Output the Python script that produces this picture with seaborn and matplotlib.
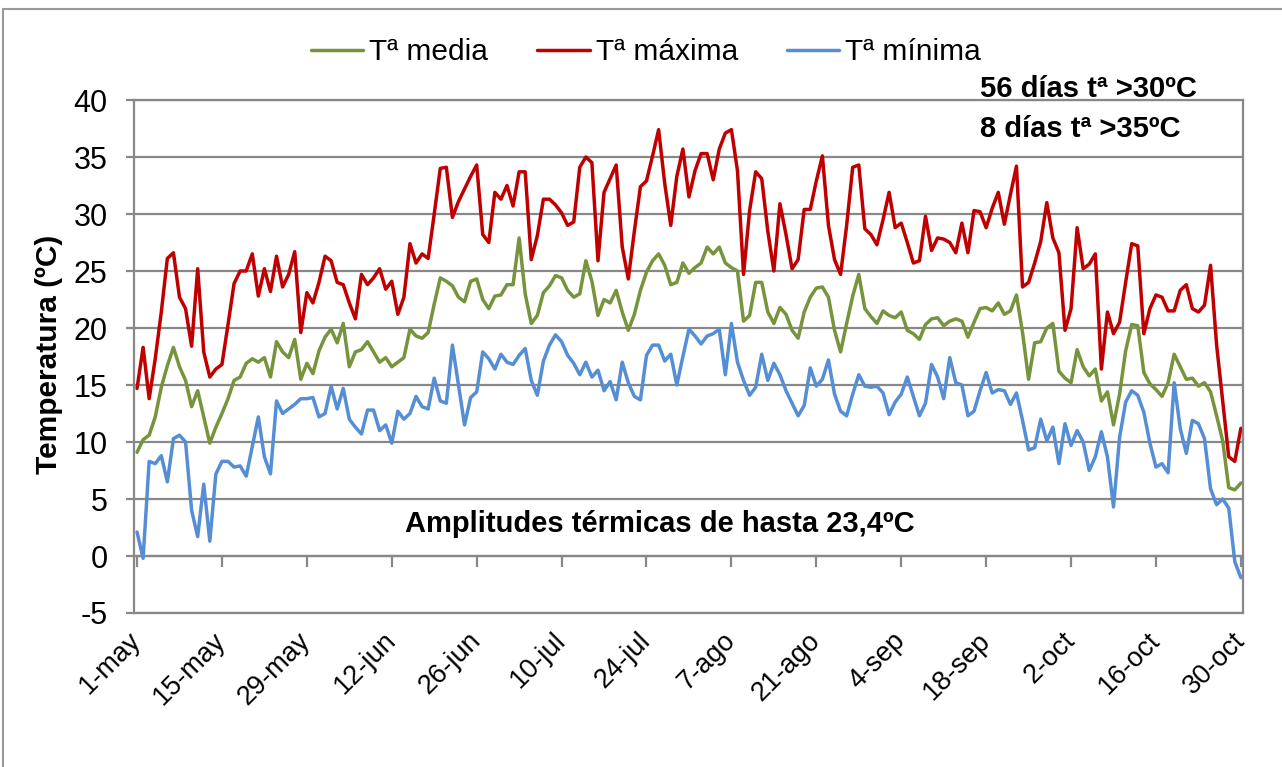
import numpy as np
import pandas as pd
import matplotlib
matplotlib.use("Agg")
import matplotlib.pyplot as plt
import seaborn as sns
from matplotlib.patches import Rectangle

# ---------------- data (1-may .. 30-oct, daily) ----------------
tick_labels = ["1-may", "15-may", "29-may", "12-jun", "26-jun", "10-jul", "24-jul",
               "7-ago", "21-ago", "4-sep", "18-sep", "2-oct", "16-oct", "30-oct"]

t_max = [14.7, 18.3, 13.8, 17.3, 21.4, 26.1, 26.6, 22.7, 21.7, 18.4,
         25.2, 17.9, 15.7, 16.4, 16.8, 20.3, 23.9, 25.0, 25.0, 26.5,
         22.8, 25.2, 23.2, 26.3, 23.6, 24.7, 26.7, 19.6, 23.1, 22.2,
         24.0, 26.3, 25.9, 24.0, 23.8, 22.2, 20.8, 24.7, 23.8, 24.4,
         25.2, 23.4, 24.1, 21.2, 22.7, 27.4, 25.7, 26.5, 26.1, 30.0,
         34.0, 34.1, 29.7, 31.1, 32.2, 33.3, 34.3, 28.2, 27.5, 31.9,
         31.3, 32.5, 30.7, 33.7, 33.7, 26.0, 28.1, 31.3, 31.3, 30.8,
         30.1, 29.0, 29.3, 34.1, 35.0, 34.5, 25.9, 31.9, 33.1, 34.3,
         27.1, 24.3, 28.5, 32.4, 32.9, 35.1, 37.4, 32.7, 29.0, 33.3,
         35.7, 31.5, 33.8, 35.3, 35.3, 33.0, 35.7, 37.1, 37.4, 33.8,
         24.7, 30.3, 33.7, 33.1, 28.5, 25.0, 30.9, 28.2, 25.2, 26.0,
         30.4, 30.4, 32.9, 35.1, 29.0, 26.0, 24.7, 29.0, 34.1, 34.3,
         28.7, 28.2, 27.3, 29.5, 31.9, 28.8, 29.2, 27.5, 25.7, 25.9,
         29.8, 26.8, 27.9, 27.8, 27.5, 26.6, 29.2, 26.6, 30.3, 30.2,
         28.8, 30.5, 31.9, 29.1, 31.7, 34.2, 23.6, 24.0, 25.7, 27.6,
         31.0, 27.9, 26.6, 19.8, 21.7, 28.8, 25.2, 25.6, 26.5, 16.4,
         21.4, 19.5, 20.5, 24.0, 27.4, 27.2, 19.5, 21.7, 22.9, 22.7,
         21.5, 21.5, 23.3, 23.8, 21.7, 21.4, 22.0, 25.5, 18.5, 13.6,
         8.7, 8.3, 11.2]

t_media = [9.1, 10.2, 10.6, 12.2, 14.8, 16.7, 18.3, 16.6, 15.4, 13.1,
           14.5, 12.2, 9.9, 11.3, 12.5, 13.8, 15.4, 15.7, 16.9, 17.3,
           17.0, 17.4, 15.7, 18.8, 17.9, 17.4, 19.0, 15.5, 16.9, 16.0,
           18.0, 19.2, 19.9, 18.7, 20.4, 16.6, 17.9, 18.1, 18.8, 17.9,
           17.0, 17.4, 16.6, 17.0, 17.4, 19.9, 19.3, 19.1, 19.6, 22.1,
           24.4, 24.1, 23.7, 22.7, 22.3, 24.1, 24.3, 22.5, 21.7, 22.8,
           22.9, 23.8, 23.8, 27.9, 23.0, 20.4, 21.1, 23.1, 23.7, 24.6,
           24.4, 23.3, 22.7, 23.0, 25.9, 24.1, 21.1, 22.5, 22.2, 23.3,
           21.4, 19.8, 21.2, 23.3, 24.9, 25.9, 26.5, 25.5, 23.8, 24.0,
           25.7, 24.8, 25.3, 25.7, 27.1, 26.5, 27.1, 25.7, 25.3, 25.0,
           20.6, 21.1, 24.0, 24.0, 21.4, 20.4, 21.8, 21.2, 19.8, 19.1,
           21.4, 22.7, 23.5, 23.6, 22.7, 19.8, 17.9, 20.4, 22.8, 24.7,
           21.7, 21.0, 20.4, 21.5, 21.1, 20.9, 21.4, 19.8, 19.5, 19.0,
           20.3, 20.8, 20.9, 20.2, 20.6, 20.8, 20.6, 19.2, 20.5, 21.7,
           21.8, 21.5, 22.2, 21.2, 21.5, 22.9, 19.6, 15.5, 18.7, 18.8,
           20.0, 20.4, 16.2, 15.6, 15.2, 18.1, 16.6, 15.8, 16.4, 13.6,
           14.4, 11.5, 14.2, 18.0, 20.3, 20.2, 16.1, 15.1, 14.6, 14.0,
           15.2, 17.7, 16.6, 15.5, 15.6, 14.9, 15.2, 14.4, 12.3, 10.1,
           6.0, 5.8, 6.4]

t_min = [2.1, -0.2, 8.3, 8.1, 8.8, 6.5, 10.3, 10.6, 10.0, 4.0,
         1.7, 6.3, 1.3, 7.2, 8.3, 8.3, 7.8, 7.9, 7.0, 9.6,
         12.2, 8.7, 7.2, 13.6, 12.5, 12.9, 13.3, 13.8, 13.8, 13.9,
         12.2, 12.5, 14.9, 12.9, 14.7, 12.0, 11.3, 10.7, 12.8, 12.8,
         11.0, 11.5, 9.9, 12.7, 12.0, 12.5, 14.0, 13.1, 12.9, 15.6,
         13.6, 13.4, 18.5, 15.0, 11.5, 13.9, 14.4, 17.9, 17.3, 16.4,
         17.7, 17.0, 16.8, 17.6, 18.2, 15.4, 14.1, 17.1, 18.5, 19.4,
         18.8, 17.6, 16.9, 15.9, 17.0, 15.7, 16.3, 14.5, 15.3, 13.7,
         17.0, 15.2, 14.0, 13.7, 17.6, 18.5, 18.5, 17.1, 17.7, 15.0,
         17.5, 19.9, 19.3, 18.6, 19.3, 19.5, 19.9, 15.9, 20.4, 17.0,
         15.4, 14.1, 14.8, 17.7, 15.4, 16.9, 15.9, 14.5, 13.4, 12.3,
         13.2, 16.5, 14.9, 15.5, 17.2, 14.2, 12.7, 12.3, 14.2, 15.9,
         14.9, 14.8, 14.9, 14.3, 12.4, 13.5, 14.2, 15.7, 14.0, 12.3,
         13.4, 16.8, 15.7, 13.8, 17.4, 15.2, 15.0, 12.3, 12.7, 14.5,
         16.1, 14.3, 14.6, 14.5, 13.3, 14.3, 11.9, 9.3, 9.5, 12.0,
         10.1, 11.3, 8.1, 11.6, 9.7, 11.0, 10.0, 7.5, 8.7, 10.9,
         8.7, 4.3, 10.4, 13.5, 14.5, 14.1, 12.6, 9.9, 7.8, 8.1,
         7.3, 15.2, 11.2, 9.0, 11.9, 11.6, 10.3, 5.9, 4.5, 5.0,
         4.2, -0.5, -1.9]

series_names = ["Tª media", "Tª máxima", "Tª mínima"]
series_colors = ["#77933C", "#C00000", "#558ED5"]

# ---------------- figure ----------------
sns.set_style("white")
plt.rcParams['font.family'] = ['Liberation Sans', 'DejaVu Sans']
plt.rcParams['axes.unicode_minus'] = False
plt.rcParams['text.color'] = 'black'
plt.rcParams['axes.labelcolor'] = 'black'

W, H = 1282, 767
fig = plt.figure(figsize=(W / 100, H / 100), dpi=100)
fig.patch.set_facecolor("white")

# outer chart border (top/left visible)
fig.add_artist(Rectangle((3 / W, -0.05), 1.2, 1.05 - 9 / H, transform=fig.transFigure,
                         fill=False, edgecolor="#9a9a9a", linewidth=1.5))

L, R, T, B = 134, 1243, 100, 613
ax = fig.add_axes([L / W, 1 - B / H, (R - L) / W, (B - T) / H])

n = len(t_max)
day = np.arange(n)
df = pd.DataFrame({
    "dia": np.concatenate([day, day, day]),
    "temp": np.concatenate([t_media, t_max, t_min]),
    "serie": np.repeat(series_names, n),
})

sns.lineplot(data=df, x="dia", y="temp", hue="serie", hue_order=series_names,
             palette=series_colors, linewidth=2.5, ax=ax)

grid_c = "#888888"
ax.set_xlim(-0.5, n - 1 + 0.35)
ax.set_ylim(-5, 40)
ax.set_yticks(np.arange(-5, 41, 5))
ax.yaxis.grid(True, color=grid_c, linewidth=1.6)
ax.xaxis.grid(False)
ax.set_axisbelow(True)
for s in ax.spines.values():
    s.set_color(grid_c)
    s.set_linewidth(1.6)

tick_pos = day[::14]
ax.set_xticks(tick_pos)
ax.set_xticklabels(tick_labels, rotation=45, ha="right", va="center",
                   rotation_mode="anchor", fontsize=19.5)
ax.tick_params(axis="x", length=0, pad=17, labelcolor="black")
ax.tick_params(axis="y", length=6, width=1.6, color=grid_c, pad=13, labelsize=22,
               direction="out", left=True, labelcolor="black")
ax.set_xlabel("")
ax.set_ylabel("Temperatura (ºC)", fontsize=21.5, fontweight="bold", color="black")
ax.yaxis.set_label_coords(-0.064, 0.505)

# x axis line crossing at 0 with tick marks
sec = ax.secondary_xaxis(5 / 45)
sec.set_xticks(tick_pos)
sec.set_xticklabels([])
sec.tick_params(axis="x", length=8, width=1.6, color=grid_c, direction="out")
for s in sec.spines.values():
    s.set_color(grid_c)
    s.set_linewidth(1.6)

# legend
sns.move_legend(ax, "upper center", bbox_to_anchor=(0.504, 0.985),
                bbox_transform=fig.transFigure, ncol=3, title=None, frameon=False,
                fontsize=21.5, handlelength=1.75, handletextpad=0.2, columnspacing=1.65,
                labelcolor="black")

# annotations
fig.text(980 / W, 1 - 89 / H, "56 días tª >30ºC", fontsize=21, fontweight="bold",
         ha="left", va="center", color="black")
fig.text(980 / W, 1 - 129 / H, "8 días tª >35ºC", fontsize=21, fontweight="bold",
         ha="left", va="center", color="black")
fig.text(660 / W, 1 - 524 / H, "Amplitudes térmicas de hasta 23,4ºC", fontsize=21,
         fontweight="bold", ha="center", va="center", color="black")

fig.savefig("out.png", dpi=100)
